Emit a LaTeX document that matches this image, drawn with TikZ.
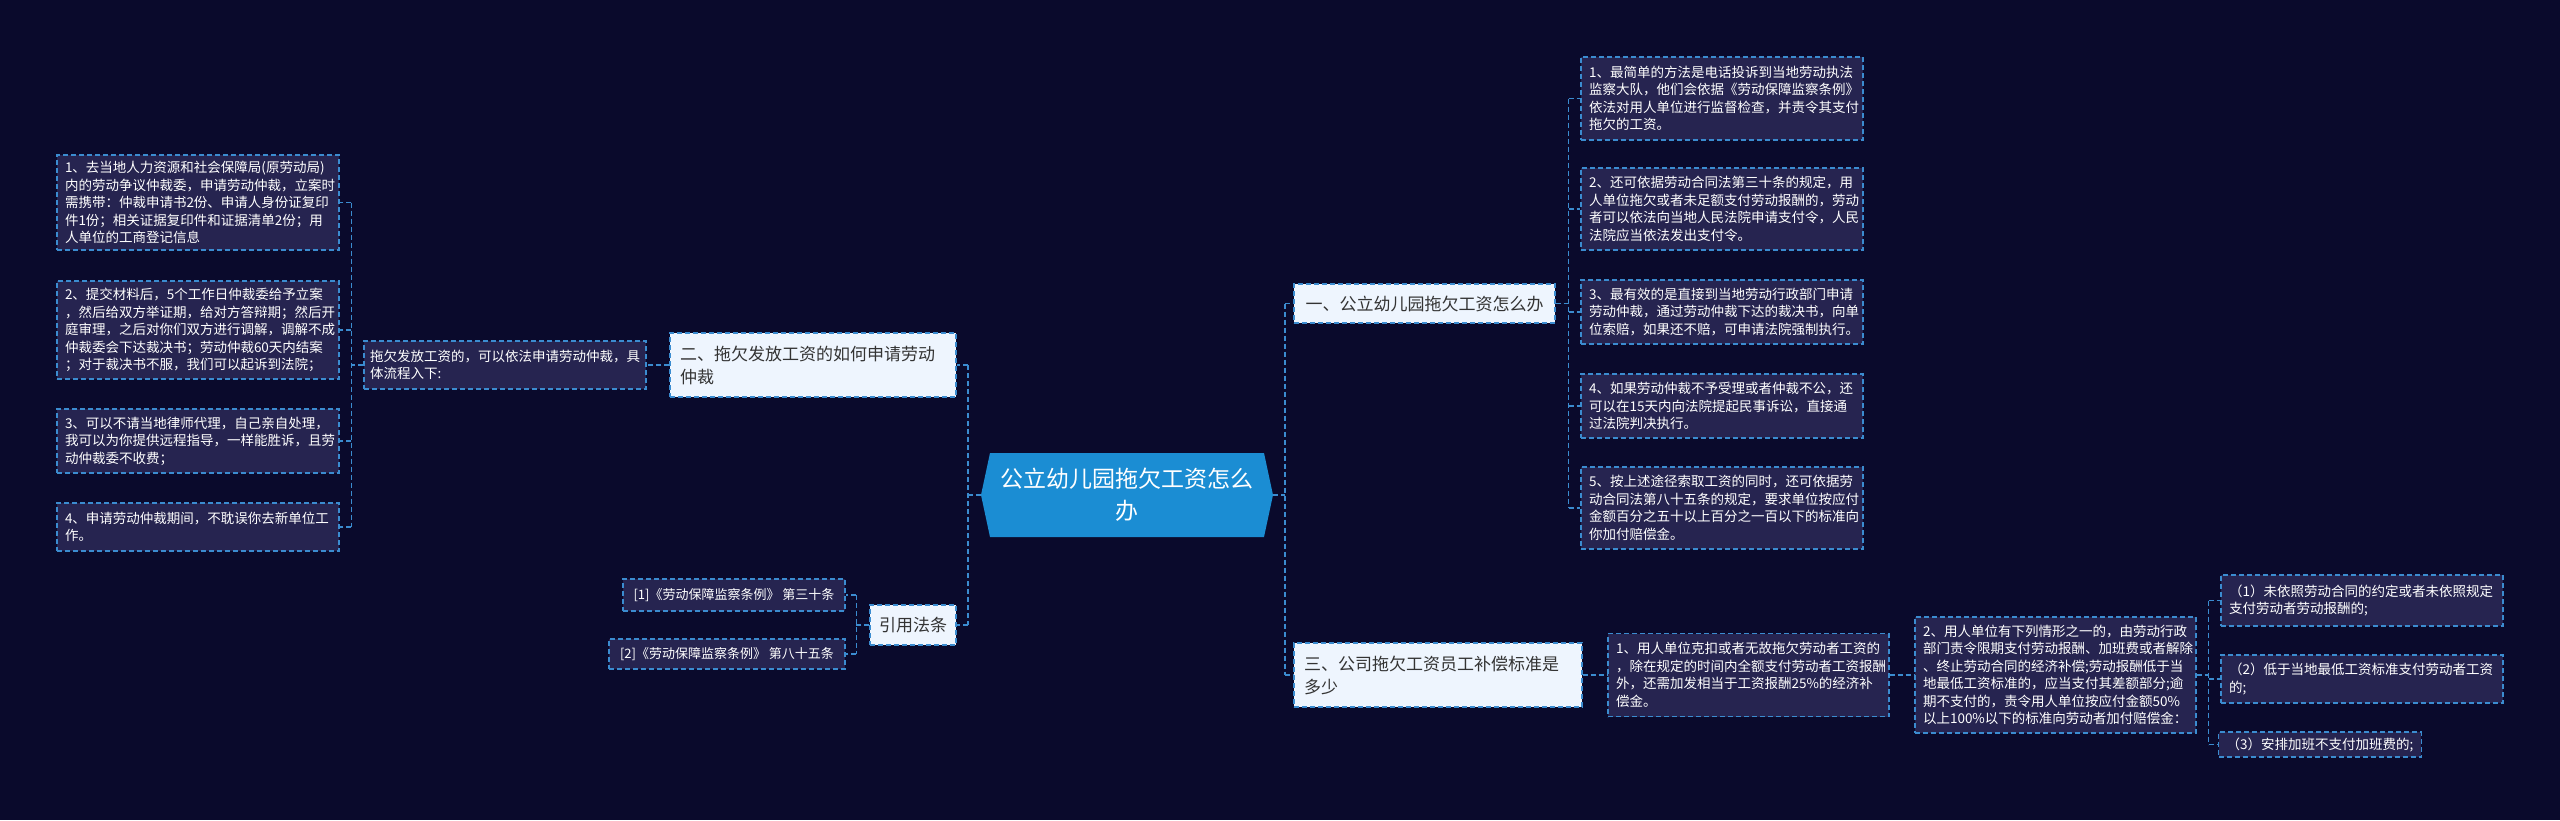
\documentclass[tikz,border=0pt]{standalone}
\usepackage{fontspec}
\setmainfont{Noto Sans CJK SC}
\usetikzlibrary{calc}
\definecolor{bgc}{HTML}{0A0A2C}
\definecolor{leaffill}{HTML}{262450}
\definecolor{branchfill}{HTML}{EEF5FE}
\definecolor{branchtext}{HTML}{333333}
\definecolor{centerfill}{HTML}{1B8DD3}
\definecolor{lineblue}{HTML}{3B8CD0}
\begin{document}
\begin{tikzpicture}[x=1pt,y=-1pt,
  leaf/.style={draw=lineblue, dash pattern=on 5pt off 3pt, line width=1.2pt, fill=leaffill, text=white,
    font=\fontsize{13.5}{17.5}\selectfont, align=left, inner xsep=8pt, inner ysep=0pt},
  branch/.style={draw=lineblue, dash pattern=on 5pt off 3pt, line width=1.2pt, fill=branchfill, text=branchtext,
    font=\fontsize{17}{23}\selectfont, align=left, inner xsep=10pt, inner ysep=0pt},
  conn/.style={draw=lineblue, dash pattern=on 5pt off 3pt, line width=1.5pt},
  centernode/.style={text=white, font=\fontsize{23}{32}\selectfont, align=center, inner sep=0pt}
]
\useasboundingbox (0,0) rectangle (2560,820);
\fill[bgc] (0,0) rectangle (2560,820);

% center hexagon
\coordinate (Cc) at (1127,495);
\fill[centerfill] ($(Cc)+(-146,0)$) -- ($(Cc)+(-137,-42)$) -- ($(Cc)+(137,-42)$) -- ($(Cc)+(146,0)$)
  -- ($(Cc)+(137,42)$) -- ($(Cc)+(-137,42)$) -- cycle;
\node[centernode, minimum width=292, minimum height=84] (C) at (Cc) {公立幼儿园拖欠工资怎么\\办};

% left branches
\node[branch, text width=266, minimum height=64] (b2) at (813,365) {二、拖欠发放工资的如何申请劳动\\仲裁};
\node[branch, minimum width=86, minimum height=40, align=center, inner xsep=4pt] (cite) at (913,625) {引用法条};

\node[leaf, text width=270, inner xsep=6pt, minimum height=48] (S0) at (505,365) {拖欠发放工资的，可以依法申请劳动仲裁，具\\体流程入下:};

\node[leaf, text width=266, minimum height=95] (L1) at (198,202.5) {1、去当地人力资源和社会保障局(原劳动局)\\内的劳动争议仲裁委，申请劳动仲裁，立案时\\需携带：仲裁申请书2份、申请人身份证复印\\件1份；相关证据复印件和证据清单2份；用\\人单位的工商登记信息};
\node[leaf, text width=266, minimum height=98] (L2) at (198,330) {2、提交材料后，5个工作日仲裁委给予立案\\，然后给双方举证期，给对方答辩期；然后开\\庭审理，之后对你们双方进行调解，调解不成\\仲裁委会下达裁决书；劳动仲裁60天内结案\\；对于裁决书不服，我们可以起诉到法院；};
\node[leaf, text width=266, minimum height=64] (L3) at (198,441) {3、可以不请当地律师代理，自己亲自处理，\\我可以为你提供远程指导，一样能胜诉，且劳\\动仲裁委不收费；};
\node[leaf, text width=266, minimum height=48] (L4) at (198,527) {4、申请劳动仲裁期间，不耽误你去新单位工\\作。};

\node[leaf, minimum width=222, minimum height=32, font=\fontsize{13}{17}\selectfont] (c1) at (734,595) {[1]《劳动保障监察条例》 第三十条};
\node[leaf, minimum width=236, minimum height=30, font=\fontsize{13}{17}\selectfont] (c2) at (727,654) {[2]《劳动保障监察条例》 第八十五条};

% right branches
\node[branch, minimum width=261, minimum height=39] (b1) at (1424.5,303.5) {一、公立幼儿园拖欠工资怎么办};
\node[branch, text width=268, minimum height=64] (b3) at (1438,675) {三、公司拖欠工资员工补偿标准是\\多少};

\node[leaf, text width=266, minimum height=83] (R1) at (1722,98.5) {1、最简单的方法是电话投诉到当地劳动执法\\监察大队，他们会依据《劳动保障监察条例》\\依法对用人单位进行监督检查，并责令其支付\\拖欠的工资。};
\node[leaf, text width=266, minimum height=82] (R2) at (1722,209) {2、还可依据劳动合同法第三十条的规定，用\\人单位拖欠或者未足额支付劳动报酬的，劳动\\者可以依法向当地人民法院申请支付令，人民\\法院应当依法发出支付令。};
\node[leaf, text width=266, minimum height=64] (R3) at (1722,312) {3、最有效的是直接到当地劳动行政部门申请\\劳动仲裁，通过劳动仲裁下达的裁决书，向单\\位索赔，如果还不赔，可申请法院强制执行。};
\node[leaf, text width=266, minimum height=64] (R4) at (1722,406) {4、如果劳动仲裁不予受理或者仲裁不公，还\\可以在15天内向法院提起民事诉讼，直接通\\过法院判决执行。};
\node[leaf, text width=266, minimum height=82] (R5) at (1722,508) {5、按上述途径索取工资的同时，还可依据劳\\动合同法第八十五条的规定，要求单位按应付\\金额百分之五十以上百分之一百以下的标准向\\你加付赔偿金。};

\node[leaf, text width=265, minimum height=83] (S1) at (1748.5,675) {1、用人单位克扣或者无故拖欠劳动者工资的\\，除在规定的时间内全额支付劳动者工资报酬\\外，还需加发相当于工资报酬25\%的经济补\\偿金。};
\node[leaf, text width=265, minimum height=116] (S2) at (2055.5,675) {2、用人单位有下列情形之一的，由劳动行政\\部门责令限期支付劳动报酬、加班费或者解除\\、终止劳动合同的经济补偿;劳动报酬低于当\\地最低工资标准的，应当支付其差额部分;逾\\期不支付的，责令用人单位按应付金额50\%\\以上100\%以下的标准向劳动者加付赔偿金：};

\node[leaf, text width=266, minimum height=51] (T1) at (2362,600.5) {（1）未依照劳动合同的约定或者未依照规定\\支付劳动者劳动报酬的;};
\node[leaf, text width=266, minimum height=48] (T2) at (2362,679) {（2）低于当地最低工资标准支付劳动者工资\\的;};
\node[leaf, minimum width=198, minimum height=25] (T3) at (2320,744.5) {（3）安排加班不支付加班费的;};

% connectors: center left
\coordinate (jl) at ($(C.west)+(-13,0)$);
\draw[conn] (C.west) -- (jl);
\draw[conn] (jl |- b2.east) -- (jl |- cite.east);
\draw[conn] (jl |- b2.east) -- (b2.east);
\draw[conn] (jl |- cite.east) -- (cite.east);
% center right
\coordinate (jr) at ($(C.east)+(12,0)$);
\draw[conn] (C.east) -- (jr);
\draw[conn] (jr |- b1.west) -- (jr |- b3.west);
\draw[conn] (jr |- b1.west) -- (b1.west);
\draw[conn] (jr |- b3.west) -- (b3.west);
% b2 -> S0 -> L*
\draw[conn] (b2.west) -- (S0.east);
\coordinate (j0) at ($(S0.west)+(-12,0)$);
\draw[conn] (S0.west) -- (j0);
\draw[conn] (j0 |- L1.east) -- (j0 |- L4.east);
\foreach \n in {L1,L2,L3,L4} \draw[conn] (j0 |- \n.east) -- (\n.east);
% cite -> c1, c2
\coordinate (jc) at ($(cite.west)+(-13,0)$);
\draw[conn] (cite.west) -- (jc);
\draw[conn] (jc |- c1.east) -- (jc |- c2.east);
\foreach \n in {c1,c2} \draw[conn] (jc |- \n.east) -- (\n.east);
% b1 -> R*
\coordinate (j1) at ($(b1.east)+(13,0)$);
\draw[conn] (b1.east) -- (j1);
\draw[conn] (j1 |- R1.west) -- (j1 |- R5.west);
\foreach \n in {R1,R2,R3,R4,R5} \draw[conn] (j1 |- \n.west) -- (\n.west);
% b3 -> S1 -> S2 -> T*
\draw[conn] (b3.east) -- (S1.west);
\draw[conn] (S1.east) -- (S2.west);
\coordinate (jt) at ($(S2.east)+(12,0)$);
\draw[conn] (S2.east) -- (jt);
\draw[conn] (jt |- T1.west) -- (jt |- T3.west);
\foreach \n in {T1,T2,T3} \draw[conn] (jt |- \n.west) -- (\n.west);
\end{tikzpicture}
\end{document}
